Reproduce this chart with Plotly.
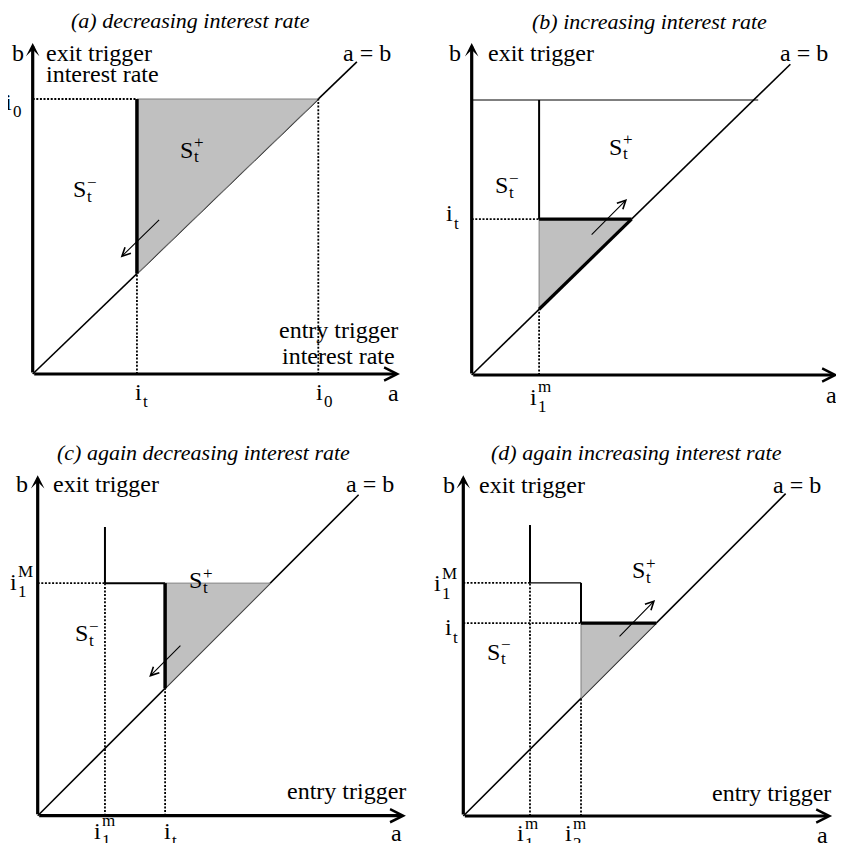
import plotly.graph_objects as go

# page body has an 8px margin: figure is drawn 8px in from the window corner
OFF = 8
W, H = 844 - 2 * OFF, 851 - 2 * OFF
FONT = "Liberation Serif"
FS = 24        # label font size
FS_SCRIPT = 17  # sub/superscript size
FS_TITLE = 22

# ---------------- data (rate levels in a common unit, i0 = 1) ----------------
TITLES = ["(a) decreasing interest rate", "(b) increasing interest rate",
          "(c) again decreasing interest rate", "(d) again increasing interest rate"]
DIAG_END = [1.135, 1.13, 1.126, 1.131]
AXIS_X_END = [1.286, 1.299, 1.292, 1.294]
AXIS_Y_END = [1.204, 1.207, 1.195, 1.196]

A_I0, A_IT = 1.0, 0.365
B_TOP, B_TOP_END, B_IM1, B_IT = 1.0, 1.016, 0.239, 0.567
C_TOP, C_IM1, C_IM1M, C_IT = 1.013, 0.236, 0.816, 0.447
D_TOP, D_IM1, D_IM2, D_IM1M, D_IT = 1.021, 0.234, 0.413, 0.818, 0.677

# drift arrows: (tail, head)
DRIFT = [((0.448, 0.566), (0.308, 0.424)),
         ((0.420, 0.505), (0.551, 0.640)),
         ((0.506, 0.602), (0.391, 0.487)),
         ((0.543, 0.625), (0.673, 0.758))]

# ---------------- layout geometry (window px origin, px per unit, panel box in window px) ----------------
GEOM = [(32.7, 374.0, 285.6, 275.0, (OFF, 422, OFF, 425)),
        (471.7, 375.0, 282.0, 275.0, (422, 844 - OFF, OFF, 425)),
        (37.7, 815.7, 285.0, 285.0, (OFF, 422, 425, 851 - OFF)),
        (463.3, 816.0, 285.0, 285.0, (422, 844 - OFF, 425, 851 - OFF))]

fig = go.Figure()
layout = {}
for k, (ox, oy, sx, sy, (l, r, t, b)) in enumerate(GEOM):
    n = "" if k == 0 else str(k + 1)
    layout["xaxis" + n] = dict(domain=[(l - OFF) / W, (r - OFF) / W],
                               range=[(l - ox) / sx, (r - ox) / sx],
                               visible=False, fixedrange=True, anchor="y" + n)
    layout["yaxis" + n] = dict(domain=[1 - (b - OFF) / H, 1 - (t - OFF) / H],
                               range=[(oy - b) / sy, (oy - t) / sy],
                               visible=False, fixedrange=True, anchor="x" + n)
fig.update_layout(**layout)


def ax_ids(k):
    n = "" if k == 0 else str(k + 1)
    return "x" + n, "y" + n


def seg(k, xs, ys, width, color="black", dash="solid"):
    xa, ya = ax_ids(k)
    fig.add_trace(go.Scatter(x=xs, y=ys, mode="lines", xaxis=xa, yaxis=ya,
                             line=dict(color=color, width=width, dash=dash),
                             showlegend=False, hoverinfo="skip", cliponaxis=False))


def dotted(k, xs, ys):
    seg(k, xs, ys, 1.8, dash="2px,1.6px")


def tri(k, xs, ys):
    xa, ya = ax_ids(k)
    fig.add_trace(go.Scatter(x=xs + [xs[0]], y=ys + [ys[0]], mode="lines", fill="toself",
                             fillcolor="#c0c0c0", line=dict(color="#7f7f7f", width=1),
                             xaxis=xa, yaxis=ya, showlegend=False, hoverinfo="skip"))


def arrow(k, tail, head, width, head_style, size):
    xa, ya = ax_ids(k)
    fig.add_annotation(x=head[0], y=head[1], ax=tail[0], ay=tail[1], xref=xa, yref=ya,
                       axref=xa, ayref=ya, text="", showarrow=True, arrowhead=head_style,
                       arrowwidth=width, arrowsize=size, arrowcolor="black", standoff=0)


def txt(k, x, y, text, size=FS, xanchor="center", yanchor="middle", xshift=0, yshift=0):
    xa, ya = ax_ids(k)
    fig.add_annotation(x=x, y=y, xref=xa, yref=ya, text=text, showarrow=False,
                       font=dict(family=FONT, size=size, color="black"),
                       xanchor=xanchor, yanchor=yanchor, xshift=xshift, yshift=yshift,
                       borderpad=0, borderwidth=0)


def script(k, x, y, base, sub=None, sup=None, sub_dy=-10, sup_dy=10):
    txt(k, x, y, base, xanchor="right")
    if sub:
        txt(k, x, y, sub, size=FS_SCRIPT, xanchor="left", yshift=sub_dy, xshift=1)
    if sup:
        txt(k, x, y, sup, size=FS_SCRIPT, xanchor="left", yshift=sup_dy, xshift=1)


def frame(k, title_x, title_y):
    arrow(k, (0, 0), (AXIS_X_END[k], 0), 3.2, 5, 0.8)
    arrow(k, (0, 0), (0, AXIS_Y_END[k]), 3.2, 3, 0.7)
    seg(k, [0, DIAG_END[k]], [0, DIAG_END[k]], 1.6)
    txt(k, title_x, title_y, "<i>" + TITLES[k] + "</i>", size=FS_TITLE)


# ---------------- panel (a) ----------------
frame(0, 0.552, 1.284)
tri(0, [A_IT, A_IT, A_I0], [A_IT, A_I0, A_I0])
seg(0, [A_IT, A_IT], [A_IT, A_I0], 3.5)
dotted(0, [0, A_IT], [A_I0, A_I0])
dotted(0, [A_IT, A_IT], [0, A_IT])
dotted(0, [A_I0, A_I0], [0, A_I0])
arrow(0, DRIFT[0][0], DRIFT[0][1], 1.1, 5, 1.5)
txt(0, -0.051, 1.167, "b")
txt(0, 0.047, 1.167, "exit trigger", xanchor="left")
txt(0, 0.047, 1.090, "interest rate", xanchor="left")
txt(0, 1.172, 1.167, "a = b")
txt(0, 1.28, 0.160, "entry trigger", xanchor="right")
txt(0, 1.269, 0.066, "interest rate", xanchor="right")
txt(0, 1.262, -0.069, "a")
script(0, -0.071, 0.99, "i", sub="0")
script(0, 0.383, -0.065, "i", sub="t")
script(0, 1.015, -0.065, "i", sub="0")
script(0, 0.563, 0.816, "S", sub="t", sup="+", sub_dy=-7, sup_dy=7)
script(0, 0.185, 0.671, "S", sub="t", sup="\u2212", sub_dy=-7, sup_dy=7)

# ---------------- panel (b) ----------------
frame(1, 0.632, 1.287)
seg(1, [0, B_TOP_END], [B_TOP, B_TOP], 1)
seg(1, [B_IM1, B_IM1], [B_IT, B_TOP], 2)
tri(1, [B_IM1, B_IT, B_IM1], [B_IT, B_IT, B_IM1])
seg(1, [B_IM1, B_IT], [B_IT, B_IT], 3.2)
seg(1, [B_IM1, B_IT], [B_IM1, B_IT], 3.2)
dotted(1, [0, B_IM1], [B_IT, B_IT])
dotted(1, [B_IM1, B_IM1], [0, B_IM1])
arrow(1, DRIFT[1][0], DRIFT[1][1], 1.1, 5, 1.5)
txt(1, -0.059, 1.171, "b")
txt(1, 0.059, 1.171, "exit trigger", xanchor="left")
txt(1, 1.178, 1.171, "a = b")
txt(1, 1.299, 0.080, "entry trigger", xanchor="right")
txt(1, 1.277, -0.073, "a")
script(1, -0.065, 0.589, "i", sub="t")
script(1, 0.232, -0.079, "i", sub="1", sup="m")
script(1, 0.532, 0.830, "S", sub="t", sup="+", sub_dy=-7, sup_dy=7)
script(1, 0.130, 0.690, "S", sub="t", sup="\u2212", sub_dy=-7, sup_dy=7)

# ---------------- panel (c) ----------------
frame(2, 0.580, 1.273)
seg(2, [C_IM1, C_IM1], [C_IM1M, C_TOP], 2)
seg(2, [C_IM1, C_IT], [C_IM1M, C_IM1M], 2)
tri(2, [C_IT, C_IT, C_IM1M], [C_IT, C_IM1M, C_IM1M])
seg(2, [C_IT, C_IT], [C_IT, C_IM1M], 3.5)
dotted(2, [0, C_IM1], [C_IM1M, C_IM1M])
dotted(2, [C_IM1, C_IM1], [0, C_IM1M])
dotted(2, [C_IT, C_IT], [0, C_IT])
arrow(2, DRIFT[2][0], DRIFT[2][1], 1.1, 5, 1.5)
txt(2, -0.056, 1.164, "b")
txt(2, 0.054, 1.164, "exit trigger", xanchor="left")
txt(2, 1.166, 1.164, "a = b")
txt(2, 1.292, 0.088, "entry trigger", xanchor="right")
txt(2, 1.260, -0.062, "a")
script(2, -0.073, 0.821, "i", sub="1", sup="M")
script(2, 0.222, -0.052, "i", sub="1", sup="m")
script(2, 0.466, -0.052, "i", sub="t")
script(2, 0.577, 0.827, "S", sub="t", sup="+", sub_dy=-7, sup_dy=7)
script(2, 0.176, 0.640, "S", sub="t", sup="\u2212", sub_dy=-7, sup_dy=7)

# ---------------- panel (d) ----------------
frame(3, 0.608, 1.274)
seg(3, [D_IM1, D_IM1], [D_IM1M, D_TOP], 2)
seg(3, [D_IM1, D_IM2], [D_IM1M, D_IM1M], 1.2)
seg(3, [D_IM2, D_IM2], [D_IT, D_IM1M], 2)
tri(3, [D_IM2, D_IT, D_IM2], [D_IT, D_IT, D_IM2])
seg(3, [D_IM2, D_IT], [D_IT, D_IT], 3.2)
dotted(3, [0, D_IM1], [D_IM1M, D_IM1M])
dotted(3, [0, D_IM2], [D_IT, D_IT])
dotted(3, [D_IM1, D_IM1], [0, D_IM1M])
dotted(3, [D_IM2, D_IM2], [0, D_IM2])
arrow(3, DRIFT[3][0], DRIFT[3][1], 1.1, 5, 1.5)
txt(3, -0.050, 1.160, "b")
txt(3, 0.055, 1.160, "exit trigger", xanchor="left")
txt(3, 1.170, 1.160, "a = b")
txt(3, 1.291, 0.080, "entry trigger", xanchor="right")
txt(3, 1.262, -0.066, "a")
script(3, -0.078, 0.816, "i", sub="1", sup="M")
script(3, -0.040, 0.662, "i", sub="t")
script(3, 0.213, -0.060, "i", sub="1", sup="m")
script(3, 0.381, -0.060, "i", sub="2", sup="m")
script(3, 0.638, 0.863, "S", sub="t", sup="+", sub_dy=-7, sup_dy=7)
script(3, 0.129, 0.576, "S", sub="t", sup="\u2212", sub_dy=-7, sup_dy=7)

fig.update_layout(width=W, height=H, margin=dict(l=0, r=0, t=0, b=0),
                  paper_bgcolor="white", plot_bgcolor="white", showlegend=False)
fig.write_html("out.html")
